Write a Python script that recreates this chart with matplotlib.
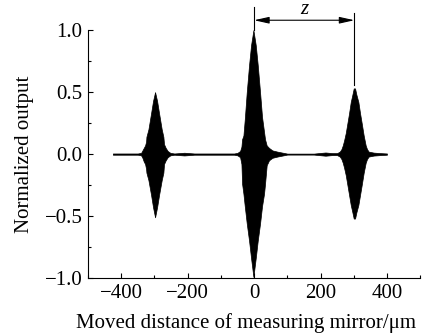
import matplotlib
matplotlib.use("Agg")
import matplotlib.pyplot as plt
from matplotlib.patches import FancyArrowPatch
from matplotlib.ticker import MultipleLocator

# Envelope of the interferogram
env_x = [-425, -350, -340, -336, -332, -328, -325, -324, -318, -310, -304, -298,
         -292, -286, -278, -273, -271, -266, -260, -252, -240, -225, -210, -195,
         -180, -60, -50, -42, -38, -36, -32, -28, -22, -15, -9, -2, 5, 11, 18,
         24, 30, 33, 38, 45, 55, 70, 85, 100, 180, 195, 215, 235, 250, 258, 263,
         267, 271, 276, 281, 286, 291, 296, 300, 304, 308, 314, 319, 324, 330,
         336, 340, 345, 360, 380, 400]
env_upper = [0.005, 0.005, 0.01, 0.03, 0.05, 0.07, 0.10, 0.14, 0.20, 0.33, 0.43, 0.50,
             0.43, 0.33, 0.20, 0.14, 0.08, 0.05, 0.025, 0.01, 0.005, 0.008, 0.011, 0.008,
             0.005, 0.005, 0.01, 0.025, 0.06, 0.12, 0.15, 0.28, 0.50, 0.72, 0.88, 1.00, 0.88, 0.72, 0.50,
             0.30, 0.18, 0.12, 0.07, 0.05, 0.03, 0.02, 0.012, 0.004, 0.004, 0.008, 0.013, 0.008, 0.008, 0.02, 0.04,
             0.07, 0.11, 0.17, 0.25, 0.33, 0.42, 0.48, 0.53, 0.53, 0.48, 0.42, 0.33, 0.25, 0.15,
             0.07, 0.04, 0.02, 0.012, 0.008, 0.005]
env_lower = [-0.005, -0.005, -0.01, -0.03, -0.06, -0.08, -0.12, -0.15, -0.21, -0.33, -0.43, -0.51,
             -0.43, -0.33, -0.21, -0.15, -0.08, -0.05, -0.025, -0.01, -0.005, -0.008, -0.011, -0.008,
             -0.005, -0.005, -0.01, -0.025, -0.08, -0.24, -0.32, -0.42, -0.56, -0.70, -0.84, -0.99, -0.84, -0.70, -0.56,
             -0.42, -0.32, -0.24, -0.09, -0.05, -0.03, -0.02, -0.012, -0.004, -0.004, -0.008, -0.013, -0.008, -0.008, -0.02, -0.04,
             -0.07, -0.11, -0.17, -0.25, -0.33, -0.41, -0.47, -0.52, -0.52, -0.47, -0.41, -0.33, -0.25, -0.15,
             -0.07, -0.04, -0.02, -0.012, -0.008, -0.005]

x_ticks = [-400, -200, 0, 200, 400]
y_ticks = [-1.0, -0.5, 0.0, 0.5, 1.0]
z_start, z_end = 0, 302
z_label = "z"
x_label = "Moved distance of measuring mirror/\u03bcm"
y_label = "Normalized output"

plt.rcParams['font.family'] = ['Liberation Serif', 'DejaVu Serif']
fs = 15

fig = plt.figure(figsize=(4.27, 3.35), dpi=100)
ax = fig.add_axes([0.206, 0.170, 0.778, 0.740])

ax.fill_between(env_x, env_lower, env_upper, color='black', linewidth=0.5, edgecolor='black')

ax.set_xlim(-500, 500)
ax.set_ylim(-1.0, 1.0)
ax.set_xticks(x_ticks)
ax.set_yticks(y_ticks)
ax.xaxis.set_minor_locator(MultipleLocator(100))
ax.yaxis.set_minor_locator(MultipleLocator(0.25))
ax.tick_params(which='major', direction='in', length=3.5, width=0.8, labelsize=fs, pad=4)
ax.tick_params(which='minor', direction='in', length=2, width=0.8)
for s in ['top', 'right']:
    ax.spines[s].set_visible(False)
for s in ['left', 'bottom']:
    ax.spines[s].set_linewidth(0.8)

ax.set_xlabel(x_label, fontsize=fs, ha='center', va='center')
ax.xaxis.set_label_coords(0.476, -0.181)
ax.set_ylabel(y_label, fontsize=fs, ha='center', va='center')
ax.yaxis.set_label_coords(-0.19, 0.50)

# z annotation
ax.plot([z_start, z_start], [1.0, 1.185], color='black', lw=0.8, clip_on=False)
ax.plot([z_end, z_end], [0.556, 1.14], color='black', lw=0.8, clip_on=False)
arr = FancyArrowPatch((z_start, 1.08), (z_end, 1.08),
                      arrowstyle='<|-|>,head_length=0.9,head_width=0.2',
                      mutation_scale=10, color='black', lw=0.8, clip_on=False,
                      shrinkA=0, shrinkB=0)
ax.add_patch(arr)
ax.text((z_start + z_end) / 2, 1.165, z_label, fontsize=fs, style='italic',
        ha='center', va='center', clip_on=False)

fig.savefig('out.png', dpi=100)
